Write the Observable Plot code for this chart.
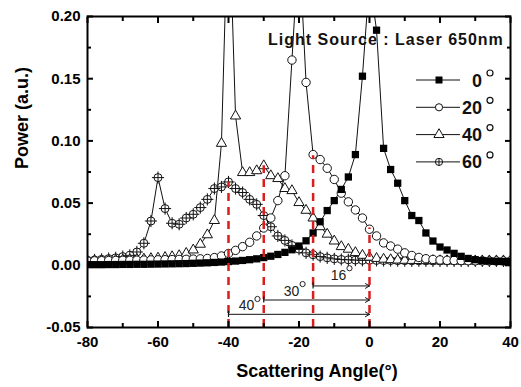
<!DOCTYPE html>
<html><head><meta charset="utf-8">
<script src="https://cdn.jsdelivr.net/npm/d3@7"></script>
<script src="https://cdn.jsdelivr.net/npm/@observablehq/plot@0.6"></script>
<style>
html,body{margin:0;padding:0;background:#fff;}
#wrap{position:relative;width:521px;height:387px;overflow:hidden;}
#wrap svg{position:absolute;left:0;top:0;}
</style></head><body><div id="wrap"></div>
<script>
// Scattering angle (degrees), sampled every 2 degrees
const angles = [-80,-78,-76,-74,-72,-70,-68,-66,-64,-62,-60,-58,-56,-54,-52,-50,-48,-46,-44,-42,-40,-38,-36,-34,-32,-30,-28,-26,-24,-22,-20,-18,-16,-14,-12,-10,-8,-6,-4,-2,0,2,4,6,8,10,12,14,16,18,20,22,24,26,28,30,32,34,36,38,40];
// Power (a.u.) for each incidence angle
const p0 = [0.0005,0.0005,0.0005,0.0006,0.0006,0.0007,0.0007,0.0008,0.0008,0.0009,0.0010,0.0011,0.0012,0.0013,0.0014,0.0016,0.0018,0.0020,0.0023,0.0026,0.0030,0.0034,0.0039,0.0045,0.0052,0.0062,0.0073,0.0087,0.0104,0.0125,0.0155,0.0197,0.026,0.035,0.044,0.052,0.061,0.071,0.089,0.152,0.23,0.189,0.094,0.077,0.066,0.052,0.040,0.036,0.026,0.0195,0.0147,0.0123,0.0096,0.0072,0.0055,0.0045,0.0038,0.0034,0.0031,0.0030,0.0030];
const p20 = [0.0035,0.0036,0.0037,0.0038,0.0039,0.0040,0.0040,0.0041,0.0042,0.0043,0.0044,0.0045,0.0046,0.0047,0.0048,0.0050,0.0052,0.0055,0.0062,0.0075,0.0095,0.0120,0.0150,0.0185,0.0236,0.030,0.038,0.052,0.072,0.165,0.26,0.147,0.089,0.085,0.078,0.069,0.058,0.051,0.0445,0.038,0.029,0.0236,0.018,0.0155,0.013,0.0100,0.0079,0.0063,0.0053,0.0047,0.0043,0.0040,0.0039,0.0038,0.0037,0.0036,0.0036,0.0035,0.0035,0.0035,0.0035];
const p40 = [0.0035,0.0036,0.0037,0.0038,0.0040,0.0042,0.0044,0.0047,0.0050,0.0054,0.0058,0.0063,0.0069,0.0077,0.0096,0.0123,0.0169,0.0245,0.036,0.098,0.30,0.120,0.0745,0.0745,0.076,0.080,0.072,0.0697,0.0617,0.060,0.0504,0.0442,0.038,0.031,0.025,0.0195,0.015,0.0129,0.0102,0.0080,0.0065,0.0055,0.0049,0.0045,0.0042,0.0040,0.0039,0.0038,0.0037,0.0037,0.0036,0.0036,0.0036,0.0035,0.0035,0.0035,0.0035,0.0035,0.0035,0.0035,0.0035];
const p60 = [0.0040,0.0043,0.0048,0.0054,0.0060,0.0070,0.0080,0.0107,0.0177,0.0356,0.0705,0.0456,0.0338,0.0330,0.0380,0.0410,0.0464,0.0530,0.0617,0.0630,0.0670,0.0617,0.0585,0.0530,0.0490,0.0400,0.0310,0.0236,0.0200,0.0160,0.0130,0.0100,0.0085,0.0070,0.0060,0.0052,0.0047,0.0044,0.0042,0.0040,0.0040,0.0039,0.0038,0.0038,0.0037,0.0037,0.0036,0.0036,0.0036,0.0035,0.0035,0.0035,0.0035,0.0035,0.0035,0.0035,0.0035,0.0035,0.0035,0.0035,0.0035];
const seriesNames = ["0", "20", "40", "60"];
// Tick labels
const xTicks = [-80,-60,-40,-20,0,20,40];
const xMinor = [-70,-50,-30,-10,10,30];
const yTicks = [-0.05,0,0.05,0.10,0.15,0.20];
const yMinor = [-0.025,0.025,0.075,0.125,0.175];
// Annotations: peak positions (red dashed), their top values, and shift arrows
const peakAngles = [-40,-30,-16,0];
const peakTops = [0.067,0.080,0.088,0.030];
const arrowFrom = [-16,-30,-40];
const arrowY = [-0.0166,-0.0279,-0.0394];
const arrowLabels = ["16","30","40"];
const arrowLabelX = [-8.8,-22.1,-34.9];
const arrowLabelY = [-0.0080,-0.0207,-0.0327];

const values = [p0, p20, p40, p60];
const rows = [];
seriesNames.forEach((s, k) => angles.forEach((a, i) => rows.push({series: s, angle: a, power: values[k][i]})));
const sub = s => rows.filter(d => d.series === s);

const peaks = peakAngles.map((a, i) => ({a, top: peakTops[i]}));
const arrows = arrowFrom.map((f, i) => ({from: f, y: arrowY[i], label: arrowLabels[i], lx: arrowLabelX[i], ly: arrowLabelY[i]}));

const FONT = "'Liberation Sans', Arial, Helvetica, sans-serif";
const RED = "#d91e1e";
const INK = "#111";

const chart = Plot.plot({
  width: 521, height: 387,
  marginLeft: 87, marginRight: 11, marginTop: 16, marginBottom: 60,
  x: {domain: [-80, 40]},
  y: {domain: [-0.05, 0.2]},
  style: {fontFamily: FONT, fontSize: "15px", fontWeight: "bold", color: "#000", background: "#fff"},
  marks: [
    // series lines
    Plot.line(rows, {x: "angle", y: "power", z: "series", stroke: INK, strokeWidth: 1, clip: true}),
    // 60 deg: circle with plus
    Plot.dot(sub("60"), {x: "angle", y: "power", r: 4, fill: "#fff", stroke: INK, strokeWidth: 1, clip: true}),
    Plot.dot(sub("60"), {x: "angle", y: "power", symbol: "plus", r: 4, stroke: INK, strokeWidth: 1, clip: true}),
    // 40 deg: open triangle
    Plot.dot(sub("40"), {x: "angle", y: "power", symbol: "triangle", r: 3.8, fill: "#fff", stroke: INK, strokeWidth: 1, clip: true}),
    // 20 deg: open circle
    Plot.dot(sub("20"), {x: "angle", y: "power", r: 4.2, fill: "#fff", stroke: INK, strokeWidth: 1, clip: true}),
    // 0 deg: filled square
    Plot.dot(sub("0"), {x: "angle", y: "power", symbol: "square", r: 4.1, fill: "#000", stroke: "none", clip: true}),
    // red dashed peak markers
    Plot.ruleX(peaks, {x: "a", y1: -0.05, y2: "top", stroke: RED, strokeWidth: 2.5, strokeDasharray: "8,6"}),
    // shift arrows
    Plot.arrow(arrows, {x1: "from", x2: 0, y1: "y", y2: "y", stroke: INK, strokeWidth: 1, headLength: 7}),
    Plot.ruleX(arrows, {x: "from", y1: d => d.y - 0.0025, y2: d => d.y + 0.0025, stroke: INK, strokeWidth: 1.2}),
    Plot.text(arrows, {x: "lx", y: "ly", text: "label", fontSize: 14, fontWeight: "normal", fill: "#222"}),
    Plot.dot(arrows, {x: "lx", y: "ly", dx: 11, dy: -7, r: 2.6, fill: "none", stroke: "#222", strokeWidth: 1}),
    // axes: labels
    Plot.axisX({ticks: xTicks, tickSize: 0, tickPadding: 9, tickFormat: d => String(d), label: null}),
    Plot.axisY({ticks: yTicks, tickSize: 0, tickPadding: 7, tickFormat: d => d.toFixed(2), label: null}),
    // inward ticks on all four sides
    Plot.axisX({anchor: "bottom", ticks: xTicks, tickSize: -6, strokeWidth: 2, tickFormat: () => "", label: null}),
    Plot.axisX({anchor: "bottom", ticks: xMinor, tickSize: -4, strokeWidth: 2, tickFormat: () => "", label: null}),
    Plot.axisX({anchor: "top", ticks: xTicks, tickSize: -6, strokeWidth: 2, tickFormat: () => "", label: null}),
    Plot.axisX({anchor: "top", ticks: xMinor, tickSize: -4, strokeWidth: 2, tickFormat: () => "", label: null}),
    Plot.axisY({anchor: "left", ticks: yTicks, tickSize: -6, strokeWidth: 2, tickFormat: () => "", label: null}),
    Plot.axisY({anchor: "left", ticks: yMinor, tickSize: -4, strokeWidth: 2, tickFormat: () => "", label: null}),
    Plot.axisY({anchor: "right", ticks: yTicks, tickSize: -6, strokeWidth: 2, tickFormat: () => "", label: null}),
    Plot.axisY({anchor: "right", ticks: yMinor, tickSize: -4, strokeWidth: 2, tickFormat: () => "", label: null}),
    Plot.frame({stroke: "#000", strokeWidth: 2}),
    // axis titles
    Plot.text(["Power (a.u.)"], {text: d => d, frameAnchor: "left", dx: -65, dy: -3, rotate: -90, fontSize: 18, fontWeight: "bold"}),
    Plot.text(["Scattering Angle(°)"], {text: d => d, frameAnchor: "bottom", dx: 18, dy: 49, fontSize: 18, fontWeight: "bold"})
  ]
});
document.getElementById("wrap").appendChild(chart);

// In-plot legend and source note
const ov = d3.select("#wrap").append("svg")
  .attr("width", 521).attr("height", 387)
  .style("pointer-events", "none")
  .style("font-family", FONT);

ov.append("text").attr("x", 268).attr("y", 45)
  .attr("font-size", 16).attr("font-weight", "bold").attr("letter-spacing", 1)
  .attr("fill", "#111").text("Light Source : Laser 650nm");

const legendSymbols = ["square", "circle", "triangle", "circleplus"];
seriesNames.forEach((s, i) => {
  const cy = 80 + i * 27.3;
  const g = ov.append("g");
  g.append("line").attr("x1", 416).attr("x2", 460).attr("y1", cy).attr("y2", cy).attr("stroke", INK).attr("stroke-width", 1);
  const t = legendSymbols[i];
  if (t === "square") {
    g.append("rect").attr("x", 435.5).attr("y", cy - 3.5).attr("width", 7).attr("height", 7).attr("fill", "#000");
  } else if (t === "circle") {
    g.append("circle").attr("cx", 439).attr("cy", cy).attr("r", 3.6).attr("fill", "#fff").attr("stroke", INK);
  } else if (t === "triangle") {
    g.append("path").attr("transform", `translate(439,${cy})`).attr("d", d3.symbol(d3.symbolTriangle, 45)()).attr("fill", "#fff").attr("stroke", INK);
  } else {
    g.append("circle").attr("cx", 439).attr("cy", cy).attr("r", 3.6).attr("fill", "#fff").attr("stroke", INK);
    g.append("path").attr("d", `M435.4,${cy}H442.6M439,${cy - 3.6}V${cy + 3.6}`).attr("stroke", INK);
  }
  g.append("text").attr("x", 482).attr("y", cy + 6.5).attr("text-anchor", "end")
    .attr("font-size", 18).attr("font-weight", "bold").attr("fill", "#111").text(s);
  g.append("circle").attr("cx", 490).attr("cy", cy - 7).attr("r", 3).attr("fill", "none").attr("stroke", "#111").attr("stroke-width", 1.2);
});
</script>
</body></html>
